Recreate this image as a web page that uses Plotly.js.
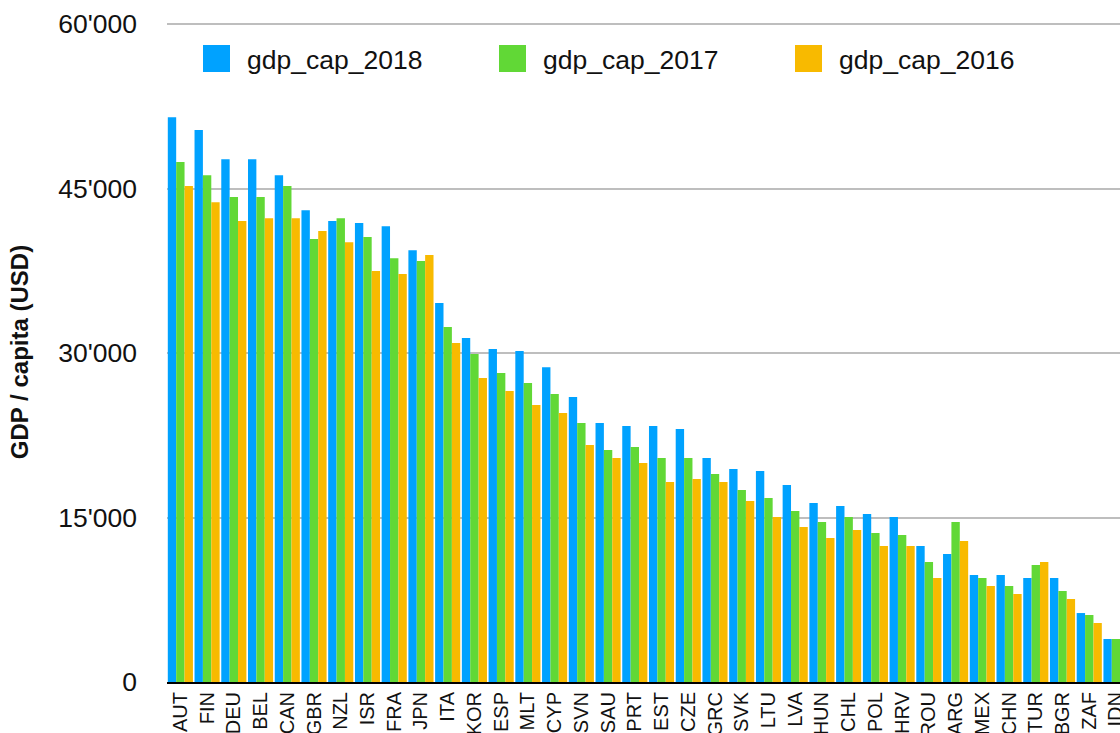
<!DOCTYPE html>
<html>
<head>
<meta charset="utf-8">
<script src="https://cdn.plot.ly/plotly-3.0.1.min.js"></script>
<style>
  html, body { margin: 0; padding: 0; background: #fff; }
  #chart { width: 1120px; height: 733px; }
</style>
</head>
<body>
<div id="chart"></div>
<script>
// Countries, sorted by 2018 GDP per capita
let countries = ["AUT", "FIN", "DEU", "BEL", "CAN", "GBR", "NZL", "ISR", "FRA", "JPN",
    "ITA", "KOR", "ESP", "MLT", "CYP", "SVN", "SAU", "PRT", "EST", "CZE",
    "GRC", "SVK", "LTU", "LVA", "HUN", "CHL", "POL", "HRV", "ROU", "ARG",
    "MEX", "CHN", "TUR", "BGR", "ZAF", "IDN"];

let gdpCap2018 = [51520, 50340, 47690, 47690, 46230, 43040, 42040, 41860, 41580, 39390,
    34560, 31370, 30370, 30180, 28720, 25990, 23620, 23340, 23340, 23070,
    20430, 19420, 19240, 17960, 16320, 16050, 15320, 15050, 12400, 11670,
    9760, 9760, 9480, 9480, 6290, 3920];

let gdpCap2017 = [47420, 46230, 44230, 44230, 45230, 40400, 42310, 40580, 38660, 38390,
    32370, 29910, 28180, 27270, 26260, 23620, 21160, 21430, 20430, 20430,
    18970, 17510, 16780, 15590, 14590, 15050, 13590, 13400, 10940, 14590,
    9480, 8750, 10670, 8300, 6110, 3920];

let gdpCap2016 = [45230, 43770, 42040, 42310, 42310, 41130, 40120, 37480, 37210, 38940,
    30910, 27720, 26540, 25260, 24530, 21610, 20430, 19970, 18240, 18510,
    18240, 16510, 15050, 14130, 13130, 13860, 12400, 12400, 9480, 12860,
    8750, 8020, 10940, 7570, 5380, 3560];

let seriesNames = ["gdp_cap_2018", "gdp_cap_2017", "gdp_cap_2016"];
let seriesColors = ["#00A2FF", "#61D836", "#F8BA00"];

let FONT = "Liberation Sans, Arial, Helvetica, sans-serif";

// Plot area in pixels
let W = 1120, H = 733;
let marginL = 167, marginR = 0, marginT = 22, marginB = 51;
let plotW = W - marginL - marginR;
let plotH = H - marginT - marginB;
let yMax = 60200; // a little headroom so the 60'000 gridline is drawn

function paperX(px) { return (px - marginL) / plotW; }
function paperY(py) { return (H - marginB - py) / plotH; }

function makeChart() {
    let values = [gdpCap2018, gdpCap2017, gdpCap2016];
    let traces = [];
    for (let i = 0; i < values.length; i++) {
        traces.push({
            type: "bar",
            name: seriesNames[i],
            x: countries,
            y: values[i],
            marker: { color: seriesColors[i] },
            showlegend: false,
            hoverinfo: "x+y"
        });
    }

    // Legend drawn by hand, the built-in one can't do big swatches
    let shapes = [];
    let annotations = [];
    let legendX = [203, 499, 795];
    for (let i = 0; i < seriesNames.length; i++) {
        shapes.push({
            type: "rect", xref: "paper", yref: "paper",
            x0: paperX(legendX[i]), x1: paperX(legendX[i] + 27),
            y0: paperY(72), y1: paperY(45),
            fillcolor: seriesColors[i], line: { width: 0 }
        });
        annotations.push({
            xref: "paper", yref: "paper",
            x: paperX(legendX[i] + 42), y: paperY(60),
            xanchor: "left", yanchor: "middle",
            text: seriesNames[i], showarrow: false,
            font: { family: FONT, size: 26.5, color: "#111" }
        });
    }

    let layout = {
        width: W,
        height: H,
        margin: { l: marginL, r: marginR, t: marginT, b: marginB, pad: 0 },
        paper_bgcolor: "#fff",
        plot_bgcolor: "#fff",
        font: { family: FONT, color: "#111" },
        separators: ".'",
        barmode: "group",
        bargap: 0.06,
        bargroupgap: 0,
        showlegend: false,
        xaxis: {
            type: "category",
            range: [-0.5, 35.15],
            tickangle: -90,
            tickfont: { size: 20 },
            showgrid: false,
            showline: true,
            linecolor: "#000",
            linewidth: 2,
            ticks: "",
            fixedrange: true
        },
        yaxis: {
            range: [0, yMax],
            tickvals: [0, 15000, 30000, 45000, 60000],
            tickformat: ",d",
            tickfont: { size: 26.5 },
            ticklabelstandoff: 29,
            showgrid: true,
            gridcolor: "#BEBEBE",
            gridwidth: 2,
            zeroline: false,
            showline: false,
            ticks: "",
            title: {
                text: "<b>GDP / capita (USD)</b>",
                font: { size: 24 },
                standoff: 22
            },
            fixedrange: true
        },
        shapes: shapes,
        annotations: annotations
    };

    Plotly.newPlot("chart", traces, layout, { displayModeBar: false, staticPlot: true });
}

makeChart();
</script>
</body>
</html>
